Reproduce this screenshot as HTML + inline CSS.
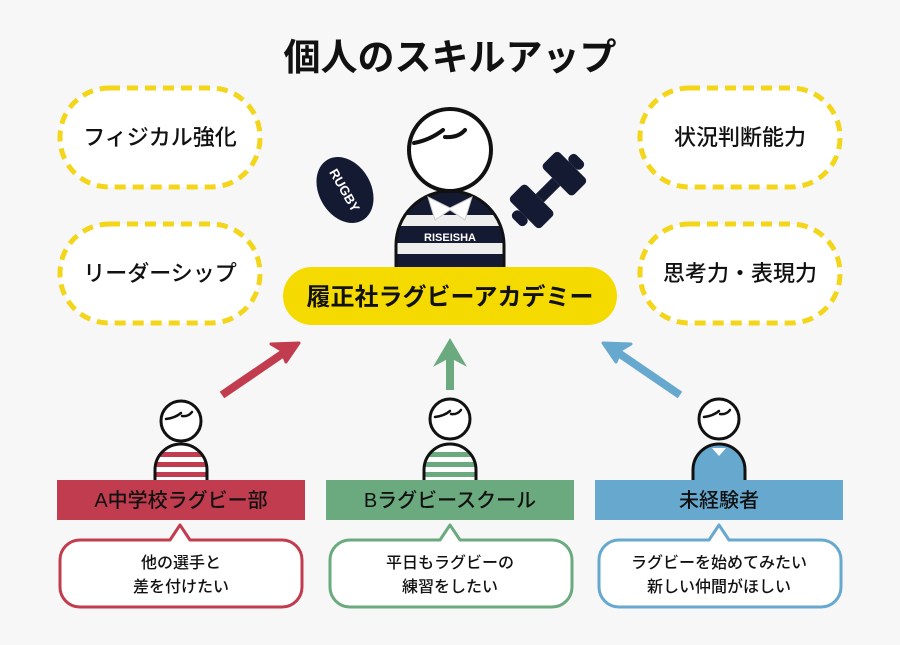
<!DOCTYPE html>
<html><head><meta charset="utf-8"><style>
html,body{margin:0;padding:0;background:#f7f7f7;}
svg{display:block;font-family:"Liberation Sans","Noto Sans CJK JP",sans-serif;}
</style></head><body>
<svg width="900" height="645" viewBox="0 0 900 645" xmlns="http://www.w3.org/2000/svg">
<rect width="900" height="645" fill="#f7f7f7"/>
<text x="450" y="70" text-anchor="middle" font-size="37" font-weight="bold" fill="#111">個人のスキルアップ</text>

<g fill="#fff" stroke="#f3d51a" stroke-width="5" stroke-dasharray="11 7">
<rect x="60" y="88" width="200" height="99" rx="49"/>
<rect x="60" y="224" width="200" height="99" rx="49"/>
<rect x="640" y="88" width="200" height="99" rx="49"/>
<rect x="640" y="224" width="200" height="99" rx="49"/>
</g>
<g font-size="22" fill="#111" text-anchor="middle" font-weight="500">
<text x="160" y="145">フィジカル強化</text>
<text x="160" y="281">リーダーシップ</text>
<text x="740" y="145">状況判断能力</text>
<text x="740" y="281">思考力・表現力</text>
</g>

<defs><clipPath id="bc"><path d="M396 268 V245 A54 54 0 0 1 504 245 V268 Z"/></clipPath>
<clipPath id="sa"><path d="M155 482 V470 A26 26 0 0 1 207 470 V482 Z"/></clipPath>
<clipPath id="sb"><path d="M424 482 V470 A26 26 0 0 1 476 470 V482 Z"/></clipPath>
<clipPath id="sc"><path d="M693 482 V470 A26 26 0 0 1 745 470 V482 Z"/></clipPath></defs>
<g clip-path="url(#bc)">
<rect x="390" y="190" width="120" height="80" fill="#151a33"/>
<rect x="390" y="215" width="120" height="11" fill="#eee"/>
<rect x="390" y="243" width="120" height="11" fill="#eee"/>
</g>
<path d="M396 268 V245 A54 54 0 0 1 504 245 V268" fill="none" stroke="#111" stroke-width="3"/>
<path d="M428 197 L450 208 L472 197 L465 220 L450 210 L435 220 Z" fill="#fff" stroke="#ccc" stroke-width="1"/>
<text x="450" y="241" text-anchor="middle" font-size="11" font-weight="bold" fill="#fff">RISEISHA</text>
<circle cx="450" cy="150" r="41" fill="#fff" stroke="#111" stroke-width="4"/>
<path d="M414 143 Q430 140 443 130 M445 137 Q458 138 465 130" fill="none" stroke="#111" stroke-width="4" stroke-linecap="round"/>

<g transform="translate(345,190) rotate(60)">
<ellipse cx="0" cy="0" rx="35" ry="26" fill="#151a33"/>
<text x="0" y="5" text-anchor="middle" font-size="13" font-weight="bold" fill="#fff">RUGBY</text>
</g>
<g transform="translate(548,190) rotate(-45) scale(1.45)" fill="#151a33">
<rect x="-8" y="-4" width="16" height="8"/>
<rect x="-24" y="-15" width="16" height="30" rx="3"/>
<rect x="8" y="-15" width="16" height="30" rx="3"/>
<rect x="-31" y="-6" width="7" height="12" rx="3"/>
<rect x="24" y="-6" width="7" height="12" rx="3"/>
</g>

<rect x="283" y="267" width="334" height="58" rx="29" fill="#f5da00"/>
<text x="450" y="305" text-anchor="middle" font-size="24" font-weight="bold" fill="#111">履正社ラグビーアカデミー</text>

<line x1="222" y1="395" x2="285" y2="352" stroke="#c13c4e" stroke-width="8"/>
<path d="M299 343 L271 344 L281 350 L286 362 Z" fill="#c13c4e" stroke="#c13c4e" stroke-width="3" stroke-linejoin="round"/>
<line x1="450" y1="390" x2="450" y2="352" stroke="#6aaa7e" stroke-width="8"/>
<path d="M450 341 L437 363 L450 356 L463 363 Z" fill="#6aaa7e" stroke="#6aaa7e" stroke-width="3"/>
<line x1="680" y1="395" x2="617" y2="352" stroke="#67a8cf" stroke-width="8"/>
<path d="M603 343 L631 344 L621 350 L616 362 Z" fill="#67a8cf" stroke="#67a8cf" stroke-width="3" stroke-linejoin="round"/>

<g clip-path="url(#sa)"><rect x="150" y="440" width="62" height="45" fill="#fff"/>
<rect x="150" y="452" width="62" height="5" fill="#c13c4e"/><rect x="150" y="462" width="62" height="5" fill="#c13c4e"/><rect x="150" y="472" width="62" height="5" fill="#c13c4e"/></g>
<path d="M155 482 V470 A26 26 0 0 1 207 470 V482" fill="none" stroke="#111" stroke-width="3"/>
<circle cx="181" cy="421" r="20" fill="#fff" stroke="#111" stroke-width="3"/>
<path d="M166 419 Q175 418 181 413 M182 416 Q188 417 192 412" fill="none" stroke="#111" stroke-width="2.5" stroke-linecap="round"/>

<g clip-path="url(#sb)"><rect x="420" y="440" width="62" height="45" fill="#fff"/>
<rect x="420" y="452" width="62" height="5" fill="#6aaa7e"/><rect x="420" y="462" width="62" height="5" fill="#6aaa7e"/><rect x="420" y="472" width="62" height="5" fill="#6aaa7e"/></g>
<path d="M424 482 V470 A26 26 0 0 1 476 470 V482" fill="none" stroke="#111" stroke-width="3"/>
<circle cx="450" cy="419" r="20" fill="#fff" stroke="#111" stroke-width="3"/>
<path d="M435 417 Q444 416 450 411 M451 414 Q457 415 461 410" fill="none" stroke="#111" stroke-width="2.5" stroke-linecap="round"/>

<g clip-path="url(#sc)"><rect x="690" y="440" width="62" height="45" fill="#67a8cf"/></g>
<path d="M712 448 L719 456 L726 448 Z" fill="#fff"/>
<path d="M693 482 V470 A26 26 0 0 1 745 470 V482" fill="none" stroke="#111" stroke-width="3"/>
<circle cx="719" cy="419" r="20" fill="#fff" stroke="#111" stroke-width="3"/>
<path d="M704 417 Q713 416 719 411 M720 414 Q726 415 730 410" fill="none" stroke="#111" stroke-width="2.5" stroke-linecap="round"/>

<rect x="57" y="480" width="248" height="40" fill="#c13c4e"/>
<rect x="326" y="480" width="248" height="40" fill="#6aaa7e"/>
<rect x="595" y="480" width="248" height="40" fill="#67a8cf"/>
<g font-size="20" fill="#111" text-anchor="middle" font-weight="500">
<text x="181" y="507">A中学校ラグビー部</text>
<text x="450" y="507">Bラグビースクール</text>
<text x="719" y="507">未経験者</text>
</g>

<g fill="#fff" stroke-width="3" stroke-linejoin="round">
<path d="M80 540 H170 L180 525 L190 540 H282 A20 20 0 0 1 302 560 V587 A20 20 0 0 1 282 607 H80 A20 20 0 0 1 60 587 V560 A20 20 0 0 1 80 540 Z" stroke="#c13c4e"/>
<path d="M350 540 H440 L450 525 L460 540 H552 A20 20 0 0 1 572 560 V587 A20 20 0 0 1 552 607 H350 A20 20 0 0 1 330 587 V560 A20 20 0 0 1 350 540 Z" stroke="#6aaa7e"/>
<path d="M619 540 H709 L719 525 L729 540 H821 A20 20 0 0 1 841 560 V587 A20 20 0 0 1 821 607 H619 A20 20 0 0 1 599 587 V560 A20 20 0 0 1 619 540 Z" stroke="#67a8cf"/>
</g>
<g font-size="16" fill="#111" text-anchor="middle" font-weight="500">
<text x="181" y="568">他の選手と</text><text x="181" y="592">差を付けたい</text>
<text x="450" y="568">平日もラグビーの</text><text x="450" y="592">練習をしたい</text>
<text x="719" y="568">ラグビーを始めてみたい</text><text x="719" y="592">新しい仲間がほしい</text>
</g>
</svg>
</body></html>
